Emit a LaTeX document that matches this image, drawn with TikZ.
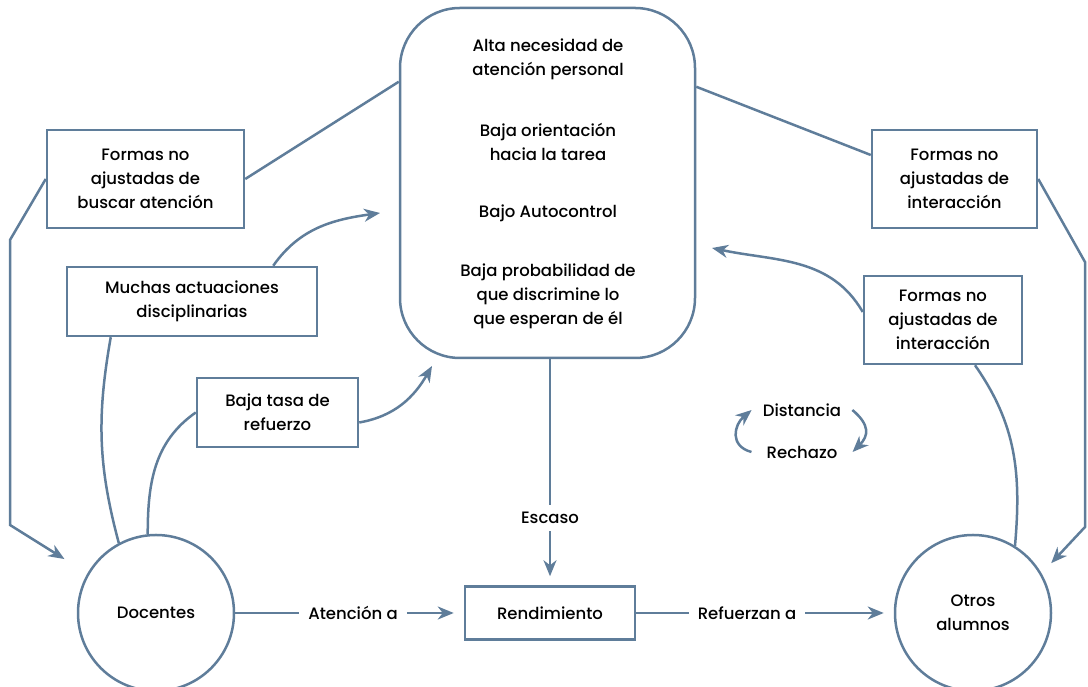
\documentclass[tikz,border=0pt]{standalone}
\usepackage{fontspec}
\setmainfont{Poppins}[UprightFont=* Medium]
\usetikzlibrary{arrows.meta}
\definecolor{steel}{HTML}{5F7D9A}
\tikzset{
	box/.style={draw=steel, line width=2.5pt, align=center, inner sep=0pt, font=\fontsize{16.5}{24}\selectfont},
	txt/.style={align=center, inner xsep=9pt, inner ysep=7pt, font=\fontsize{16.5}{24}\selectfont},
	link/.style={draw=steel, line width=2.5pt},
	arr/.style={link, -{Stealth[length=16pt, width=13pt, inset=5pt]}},
}

\begin{document}
\begin{tikzpicture}[x=1pt, y=1pt]
			%%%%% START %%%%%
			\useasboundingbox (0, 0) rectangle (1088, 687);
			
			\node[box, rounded corners=60pt, minimum width=295pt, minimum height=350pt] (big) at (547.5, 504) {};
			\node[txt] (need) at (548, 628) {Alta necesidad de\\atención personal};
			\node[txt] (task) at (548, 545) {Baja orientación\\hacia la tarea};
			\node[txt] (self) at (548, 474) {Bajo Autocontrol};
			\node[txt] (prob) at (548, 391) {Baja probabilidad de\\que discrimine lo\\que esperan de él};
			
			\node[box, minimum width=197pt, minimum height=98pt] (buscar) at (145.5, 508) {Formas no\\ajustadas de\\buscar atención};
			\node[box, minimum width=250pt, minimum height=69pt] (muchas) at (192, 385.5) {Muchas actuaciones\\disciplinarias};
			\node[box, minimum width=161pt, minimum height=69pt] (tasa) at (277.5, 274.5) {Baja tasa de\\refuerzo};
			\node[box, minimum width=165pt, minimum height=98pt] (interA) at (954.5, 508) {Formas no\\ajustadas de\\interacción};
			\node[box, minimum width=158pt, minimum height=88pt] (interB) at (943, 367) {Formas no\\ajustadas de\\interacción};
			\node[box, minimum width=170pt, minimum height=53pt] (rend) at (550, 74) {Rendimiento};
			
			\node[box, circle, minimum size=156pt] (docentes) at (156, 74) {Docentes};
			\node[box, circle, minimum size=156pt] (otros) at (973, 74) {Otros\\alumnos};
			
			\node[txt] (atencion) at (353, 74) {Atención a};
			\node[txt] (refuerzan) at (747, 74) {Refuerzan a};
			\node[txt] (escaso) at (550, 169) {Escaso};
			\node[txt] (distancia) at (802, 277) {Distancia};
			\node[txt] (rechazo) at (802, 235) {Rechazo};
			
			\coordinate (bendL1) at (10, 447);
			\coordinate (bendL2) at (10, 162);
			\coordinate (bendR1) at (1085, 425);
			\coordinate (bendR2) at (1085, 160);
			\coordinate (tipA) at (380, 474);
			\coordinate (tipB) at (432, 321);
			\coordinate (tipC) at (712, 439);
			
			\draw[link] (buscar.east) -- ([yshift=-75pt]big.north west);
			\draw[arr, shorten >=27pt] (buscar.west) -- (bendL1) -- (bendL2) -- (docentes.150);
			\draw[arr] ([xshift=-45pt]muchas.north east) to[out=55, in=188] (tipA);
			\draw[link] ([xshift=45pt]muchas.south west) to[out=-100, in=105] (docentes.118);
			\draw[link] (tasa.west) to[out=215, in=90] (docentes.96);
			\draw[arr] ([yshift=-10pt]tasa.east) to[out=10, in=240] (tipB);
			
			\draw[link] ([yshift=-80pt]big.north east) -- ([yshift=24pt]interA.west);
			\draw[arr, shorten >=14pt] (interA.east) -- (bendR1) -- (bendR2) -- (otros.30);
			\draw[arr] ([yshift=8pt]interB.west) to[out=120, in=-12] (tipC);
			\draw[link] ([xshift=32pt]interB.south) to[out=-55, in=85] (otros.58);
			
			\draw[link] (escaso.north |- big.south) -- (escaso.north);
			\draw[arr, shorten >=9pt] (escaso.south) -- (rend.north);
			\draw[link] (docentes.east) -- (atencion.west);
			\draw[arr, shorten >=10pt] (atencion.east) -- (rend.west);
			\draw[link] (rend.east) -- (refuerzan.west);
			\draw[arr, shorten >=10pt] (refuerzan.east) -- (otros.west);
			
			\draw[arr] ([xshift=-6pt]rechazo.west) to[out=165, in=-140, looseness=1.4] ([xshift=-2pt]distancia.west);
			\draw[arr] ([xshift=2pt]distancia.east) to[out=-40, in=45, looseness=1.4] ([xshift=6pt]rechazo.east);
			%%%%% END %%%%%
\end{tikzpicture}
\end{document}
